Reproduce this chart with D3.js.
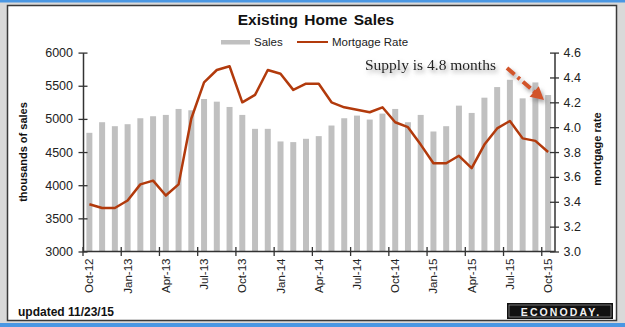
<!DOCTYPE html>
<html>
<head>
<meta charset="utf-8">
<script src="https://cdn.jsdelivr.net/npm/d3@7"></script>
<style>
  html, body { margin: 0; padding: 0; background: #d9d9d9; }
  svg { display: block; }
</style>
</head>
<body>
<svg id="chart" width="625" height="327"></svg>
<script>
// Monthly existing home sales (thousands, SAAR) and 30-yr mortgage rate (%)
const months = [
  "Oct-12","Nov-12","Dec-12","Jan-13","Feb-13","Mar-13","Apr-13","May-13","Jun-13",
  "Jul-13","Aug-13","Sep-13","Oct-13","Nov-13","Dec-13","Jan-14","Feb-14","Mar-14",
  "Apr-14","May-14","Jun-14","Jul-14","Aug-14","Sep-14","Oct-14","Nov-14","Dec-14",
  "Jan-15","Feb-15","Mar-15","Apr-15","May-15","Jun-15","Jul-15","Aug-15","Sep-15","Oct-15"
];
const sales = [
  4790, 4950, 4890, 4920, 5010, 5040, 5060, 5150, 5130,
  5300, 5260, 5180, 5060, 4850, 4850, 4660, 4650, 4700,
  4740, 4900, 5010, 5050, 4990, 5080, 5150, 4950, 5060,
  4810, 4890, 5200, 5090, 5320, 5480, 5590, 5310, 5550, 5360
];
const mortgageRate = [
  3.38, 3.35, 3.35, 3.41, 3.54, 3.57, 3.45, 3.54, 4.07,
  4.36, 4.46, 4.49, 4.20, 4.26, 4.46, 4.43, 4.30, 4.35,
  4.35, 4.20, 4.16, 4.14, 4.12, 4.16, 4.04, 4.00, 3.86,
  3.71, 3.71, 3.77, 3.67, 3.86, 3.99, 4.05, 3.91, 3.89, 3.80
];
const salesTicks = [3000, 3500, 4000, 4500, 5000, 5500, 6000];
const rateTicks = [3.0, 3.2, 3.4, 3.6, 3.8, 4.0, 4.2, 4.4, 4.6];
const monthTicks = months.filter((m, i) => i % 3 === 0);

const svg = d3.select("#chart");
const font = "'Liberation Sans', Arial, sans-serif";

// ---- frame ----
svg.append("rect").attr("x", 0).attr("y", 0).attr("width", 625).attr("height", 327).attr("fill", "#d9d9d9");
svg.append("rect").attr("x", 0).attr("y", 0).attr("width", 625).attr("height", 2.5).attr("fill", "#4a97e3");
svg.append("rect").attr("x", 0).attr("y", 323).attr("width", 625).attr("height", 4).attr("fill", "#4a97e3");
svg.append("rect").attr("x", 7.5).attr("y", 5.5).attr("width", 609).attr("height", 315)
  .attr("fill", "#ffffff").attr("stroke", "#3a3a3a").attr("stroke-width", 1.5);

// ---- scales ----
const plot = { left: 83, right: 554.5, top: 52.6, bottom: 251.5 };
const x = d3.scaleBand().domain(months).range([plot.left, plot.right])
  .paddingInner(0.53).paddingOuter(0.265);
const ySales = d3.scaleLinear().domain([3000, 6000]).range([plot.bottom, plot.top]);
const yRate = d3.scaleLinear().domain([3.0, 4.6]).range([plot.bottom, plot.top]);
const bandLeft = m => x(m) - x.step() * x.paddingOuter();

// ---- shadow filter for the annotation ----
const defs = svg.append("defs");
const f = defs.append("filter").attr("id", "soft").attr("x", "-20%").attr("y", "-40%")
  .attr("width", "140%").attr("height", "200%");
f.append("feDropShadow").attr("dx", 2).attr("dy", 3).attr("stdDeviation", 2)
  .attr("flood-color", "#777").attr("flood-opacity", 0.7);

// ---- bars ----
svg.append("g").selectAll("rect").data(months).join("rect")
  .attr("x", d => x(d))
  .attr("width", x.bandwidth())
  .attr("y", (d, i) => ySales(sales[i]))
  .attr("height", (d, i) => ySales(3000) - ySales(sales[i]))
  .attr("fill", "#c0c0c0");

// ---- mortgage rate line ----
const line = d3.line()
  .x((d, i) => x(months[i]) + x.bandwidth() / 2)
  .y(d => yRate(d));
svg.append("path").datum(mortgageRate).attr("d", line)
  .attr("fill", "none").attr("stroke", "#b23a0c").attr("stroke-width", 2.5)
  .attr("stroke-linejoin", "round");

// ---- left axis ----
const gL = svg.append("g").attr("transform", `translate(${plot.left},0)`)
  .call(d3.axisLeft(ySales).tickValues(salesTicks).tickFormat(d3.format("d"))
    .tickSize(0).tickPadding(10));
gL.select(".domain").attr("stroke", "#333").attr("stroke-width", 1.5);
gL.selectAll(".tick line").attr("x1", -4.5).attr("x2", 4.5).attr("stroke", "#333").attr("stroke-width", 1.3);
gL.selectAll(".tick text").attr("font-family", font).attr("font-size", 12.5).attr("fill", "#222");

// ---- right axis ----
const gR = svg.append("g").attr("transform", `translate(${plot.right},0)`)
  .call(d3.axisRight(yRate).tickValues(rateTicks).tickFormat(d3.format(".1f"))
    .tickSize(0).tickPadding(9));
gR.select(".domain").attr("stroke", "#333").attr("stroke-width", 1.5);
gR.selectAll(".tick line").attr("x1", -4.5).attr("x2", 4.5).attr("stroke", "#333").attr("stroke-width", 1.3);
gR.selectAll(".tick text").attr("font-family", font).attr("font-size", 12.5).attr("fill", "#222");

// ---- bottom axis ----
const gB = svg.append("g").attr("transform", `translate(0,${plot.bottom})`);
gB.append("line").attr("x1", plot.left).attr("x2", plot.right)
  .attr("stroke", "#333").attr("stroke-width", 1.5);
gB.selectAll("line.tk").data(monthTicks).join("line").attr("class", "tk")
  .attr("x1", d => bandLeft(d)).attr("x2", d => bandLeft(d))
  .attr("y1", -4.5).attr("y2", 4.5).attr("stroke", "#333").attr("stroke-width", 1.3);
gB.selectAll("text").data(monthTicks).join("text")
  .attr("transform", d => `translate(${x(d) + x.bandwidth() / 2},7) rotate(-90)`)
  .attr("text-anchor", "end").attr("dy", "0.35em")
  .attr("font-family", font).attr("font-size", 11.5).attr("fill", "#222")
  .text(d => d);

// ---- axis titles ----
svg.append("text").attr("transform", "translate(27,152) rotate(-90)")
  .attr("text-anchor", "middle").attr("font-family", font).attr("font-weight", "bold")
  .attr("font-size", 11).attr("fill", "#111").text("thousands of sales");
svg.append("text").attr("transform", "translate(601,149) rotate(-90)")
  .attr("text-anchor", "middle").attr("font-family", font).attr("font-weight", "bold")
  .attr("font-size", 11).attr("fill", "#111").text("mortgage rate");

// ---- title & legend ----
svg.append("text").attr("x", 316).attr("y", 25).attr("text-anchor", "middle")
  .attr("font-family", font).attr("font-weight", "bold").attr("font-size", 15.5)
  .attr("word-spacing", 2).attr("fill", "#111").text("Existing Home Sales");

const legend = svg.append("g");
legend.append("rect").attr("x", 221).attr("y", 40).attr("width", 29).attr("height", 4.5).attr("fill", "#c0c0c0");
legend.append("text").attr("x", 254).attr("y", 46).attr("font-family", font)
  .attr("font-size", 11.5).attr("fill", "#222").text("Sales");
legend.append("line").attr("x1", 297).attr("x2", 328).attr("y1", 42).attr("y2", 42)
  .attr("stroke", "#b23a0c").attr("stroke-width", 2);
legend.append("text").attr("x", 332).attr("y", 46).attr("font-family", font)
  .attr("font-size", 11.5).attr("fill", "#222").text("Mortgage Rate");

// ---- annotation ----
svg.append("text").attr("x", 365).attr("y", 69.5)
  .attr("font-family", "'Liberation Serif', 'Times New Roman', serif")
  .attr("font-size", 15.5).attr("fill", "#222").attr("filter", "url(#soft)")
  .text("Supply is 4.8 months");

const arrow = svg.append("g").attr("filter", "url(#soft)");
const ax0 = 507, ay0 = 68, ax1 = 544, ay1 = 100;
const ang = Math.atan2(ay1 - ay0, ax1 - ax0);
const headLen = 13, headW = 7;
const bx = ax1 - headLen * Math.cos(ang), by = ay1 - headLen * Math.sin(ang);
arrow.append("line").attr("x1", ax0).attr("y1", ay0).attr("x2", bx + 2 * Math.cos(ang)).attr("y2", by + 2 * Math.sin(ang))
  .attr("stroke", "#d2542a").attr("stroke-width", 4).attr("stroke-dasharray", "10,4,3,4");
arrow.append("path")
  .attr("d", `M${ax1},${ay1} L${bx + headW * Math.sin(ang)},${by - headW * Math.cos(ang)} L${bx - headW * Math.sin(ang)},${by + headW * Math.cos(ang)} Z`)
  .attr("fill", "#d2542a");

// ---- footer ----
svg.append("text").attr("x", 18).attr("y", 316).attr("font-family", font)
  .attr("font-weight", "bold").attr("font-size", 12).attr("fill", "#111").text("updated 11/23/15");
const logo = svg.append("g");
logo.append("rect").attr("x", 507).attr("y", 303).attr("width", 106).attr("height", 16).attr("fill", "#111");
logo.append("rect").attr("x", 509).attr("y", 305).attr("width", 102).attr("height", 12)
  .attr("fill", "none").attr("stroke", "#888").attr("stroke-width", 0.8);
logo.append("text").attr("x", 561).attr("y", 315.5).attr("text-anchor", "middle")
  .attr("font-family", font).attr("font-weight", "bold").attr("font-size", 10.5)
  .attr("letter-spacing", 2.1).attr("fill", "#f2f2f2").text("ECONODAY.");
</script>
</body>
</html>
